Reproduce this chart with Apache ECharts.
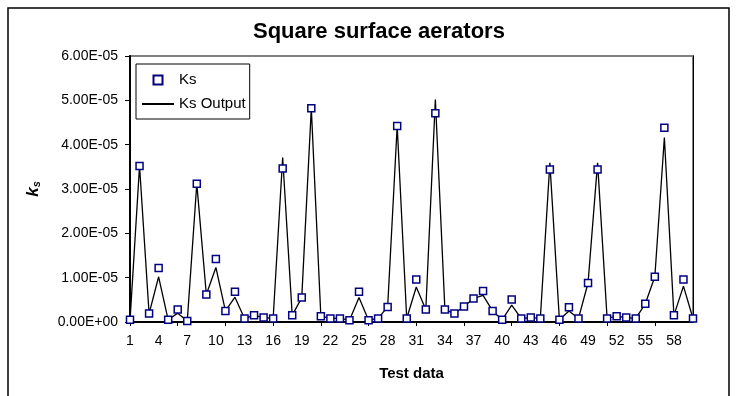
<!DOCTYPE html>
<html>
<head>
<meta charset="utf-8">
<script src="https://cdn.jsdelivr.net/npm/echarts@6/dist/echarts.min.js"></script>
<style>
  html, body { margin: 0; padding: 0; background: #fff; }
  #chart { width: 737px; height: 396px; }
</style>
</head>
<body>
<div id="chart"></div>
<script>
// test data numbers (category axis)
var testIds = ["1", "2", "3", "4", "5", "6", "7", "8", "9", "10",
  "11", "12", "13", "14", "15", "16", "17", "18", "19", "20",
  "21", "22", "23", "24", "25", "26", "27", "28", "29", "30",
  "31", "32", "33", "34", "35", "36", "37", "38", "39", "40",
  "41", "42", "43", "44", "45", "46", "47", "48", "49", "50",
  "51", "52", "53", "54", "55", "56", "57", "58", "59", "60"];

// measured ks (square markers)
var ks = [0.05e-5, 3.52e-5, 0.19e-5, 1.22e-5, 0.05e-5, 0.28e-5, 0.02e-5, 3.12e-5, 0.62e-5, 1.42e-5,
  0.25e-5, 0.68e-5, 0.08e-5, 0.15e-5, 0.10e-5, 0.08e-5, 3.46e-5, 0.15e-5, 0.55e-5, 4.82e-5,
  0.13e-5, 0.08e-5, 0.08e-5, 0.04e-5, 0.68e-5, 0.04e-5, 0.08e-5, 0.34e-5, 4.42e-5, 0.08e-5,
  0.96e-5, 0.28e-5, 4.71e-5, 0.28e-5, 0.19e-5, 0.35e-5, 0.53e-5, 0.70e-5, 0.25e-5, 0.05e-5,
  0.51e-5, 0.08e-5, 0.10e-5, 0.08e-5, 3.44e-5, 0.05e-5, 0.33e-5, 0.08e-5, 0.88e-5, 3.44e-5,
  0.08e-5, 0.13e-5, 0.10e-5, 0.08e-5, 0.41e-5, 1.02e-5, 4.38e-5, 0.15e-5, 0.96e-5, 0.08e-5];

// model output (black line)
var ksOutput = [0.03e-5, 3.52e-5, 0.19e-5, 1.02e-5, 0.05e-5, 0.20e-5, 0.02e-5, 3.12e-5, 0.62e-5, 1.23e-5,
  0.25e-5, 0.56e-5, 0.08e-5, 0.15e-5, 0.10e-5, 0.08e-5, 3.71e-5, 0.15e-5, 0.55e-5, 4.82e-5,
  0.13e-5, 0.08e-5, 0.08e-5, 0.04e-5, 0.55e-5, 0.04e-5, 0.08e-5, 0.34e-5, 4.42e-5, 0.08e-5,
  0.79e-5, 0.28e-5, 5.02e-5, 0.28e-5, 0.19e-5, 0.35e-5, 0.53e-5, 0.60e-5, 0.25e-5, 0.05e-5,
  0.38e-5, 0.08e-5, 0.10e-5, 0.08e-5, 3.59e-5, 0.05e-5, 0.25e-5, 0.08e-5, 0.88e-5, 3.59e-5,
  0.08e-5, 0.13e-5, 0.10e-5, 0.08e-5, 0.41e-5, 1.02e-5, 4.16e-5, 0.15e-5, 0.81e-5, 0.08e-5];

var yMin = 0;
var yMax = 6e-5;
var yStep = 1e-5;

var font = "'Liberation Sans', Arial, sans-serif";

// 6e-5 -> "6.00E-05"
function sciLabel(v) {
  if (Math.abs(v) < 1e-12) return "0.00E+00";
  var parts = v.toExponential(2).split("e");
  var exp = parseInt(parts[1], 10);
  var sign = exp < 0 ? "-" : "+";
  var digits = String(Math.abs(exp));
  if (digits.length < 2) digits = "0" + digits;
  return parts[0] + "E" + sign + digits;
}

var myChart = echarts.init(document.getElementById("chart"));
var option = {
  backgroundColor: "#ffffff",
  animation: false,
  textStyle: { fontFamily: font },
  title: {
    text: "Square surface aerators",
    left: 253,
    top: 21,
    padding: 0,
    textStyle: { fontFamily: font, fontSize: 22, fontWeight: "bold", color: "#000" }
  },
  graphic: [
    {
      type: "rect",
      shape: { x: 8, y: 8, width: 721, height: 420 },
      style: { fill: "none", stroke: "#000", lineWidth: 1.5 },
      silent: true
    }
  ],
  legend: {
    orient: "vertical",
    left: 136,
    top: 64,
    padding: [8, 4, 7, 5],
    itemWidth: 32,
    itemHeight: 9,
    itemGap: 8,
    borderColor: "#000",
    borderWidth: 1,
    backgroundColor: "#fff",
    textStyle: { fontFamily: font, fontSize: 15, color: "#000", lineHeight: 16 },
    data: [
      { name: "Ks", icon: "path://M0,0H10V10H0Z" },
      { name: "Ks Output", itemStyle: { opacity: 0 } }
    ]
  },
  grid: {
    left: 130,
    right: 44,
    top: 56,
    bottom: 74,
    show: true,
    borderColor: "#808080",
    borderWidth: 2,
    backgroundColor: "#fff"
  },
  xAxis: {
    type: "category",
    data: testIds,
    boundaryGap: false,
    name: "Test data",
    nameLocation: "middle",
    nameGap: 44,
    nameTextStyle: { fontFamily: font, fontSize: 15, fontWeight: "bold", color: "#000" },
    axisLine: { onZero: false, lineStyle: { color: "#000", width: 2 } },
    axisTick: { show: true, interval: 4, length: 4, lineStyle: { color: "#000", width: 1 } },
    axisLabel: { interval: 2, margin: 12, fontSize: 14, color: "#000", fontFamily: font },
    splitLine: { show: false }
  },
  yAxis: [
    {
      type: "value",
      min: yMin,
      max: yMax,
      interval: yStep,
      name: "{k|k}{s|s}",
      nameLocation: "middle",
      nameRotate: 90,
      nameGap: 88,
      nameTextStyle: {
        rich: {
          k: { fontFamily: font, fontSize: 17, fontWeight: "bold", fontStyle: "italic", color: "#000", lineHeight: 20, verticalAlign: "bottom" },
          s: { fontFamily: font, fontSize: 11, fontWeight: "bold", fontStyle: "italic", color: "#000", lineHeight: 11, verticalAlign: "bottom" }
        }
      },
      axisLine: { show: true, lineStyle: { color: "#000", width: 2 } },
      axisTick: { show: true, length: 5, lineStyle: { color: "#000", width: 1 } },
      axisLabel: { margin: 12, fontSize: 14, color: "#000", fontFamily: font, formatter: sciLabel },
      splitLine: { show: false }
    },
    {
      type: "value",
      position: "right",
      min: yMin,
      max: yMax,
      interval: yStep,
      axisLine: { show: true, lineStyle: { color: "#000", width: 1 } },
      axisTick: { show: false },
      axisLabel: { show: false },
      splitLine: { show: false }
    }
  ],
  series: [
    {
      name: "Ks Output",
      type: "line",
      data: ksOutput,
      symbol: "none",
      z: 2,
      lineStyle: { color: "#000", width: 1.3 },
      itemStyle: { color: "#000" }
    },
    {
      name: "Ks",
      type: "scatter",
      data: ks,
      symbol: "rect",
      symbolSize: 7,
      z: 3,
      itemStyle: { color: "#fff", borderColor: "#000080", borderWidth: 1.5, opacity: 1 }
    }
  ]
};

myChart.setOption(option);
</script>
</body>
</html>
